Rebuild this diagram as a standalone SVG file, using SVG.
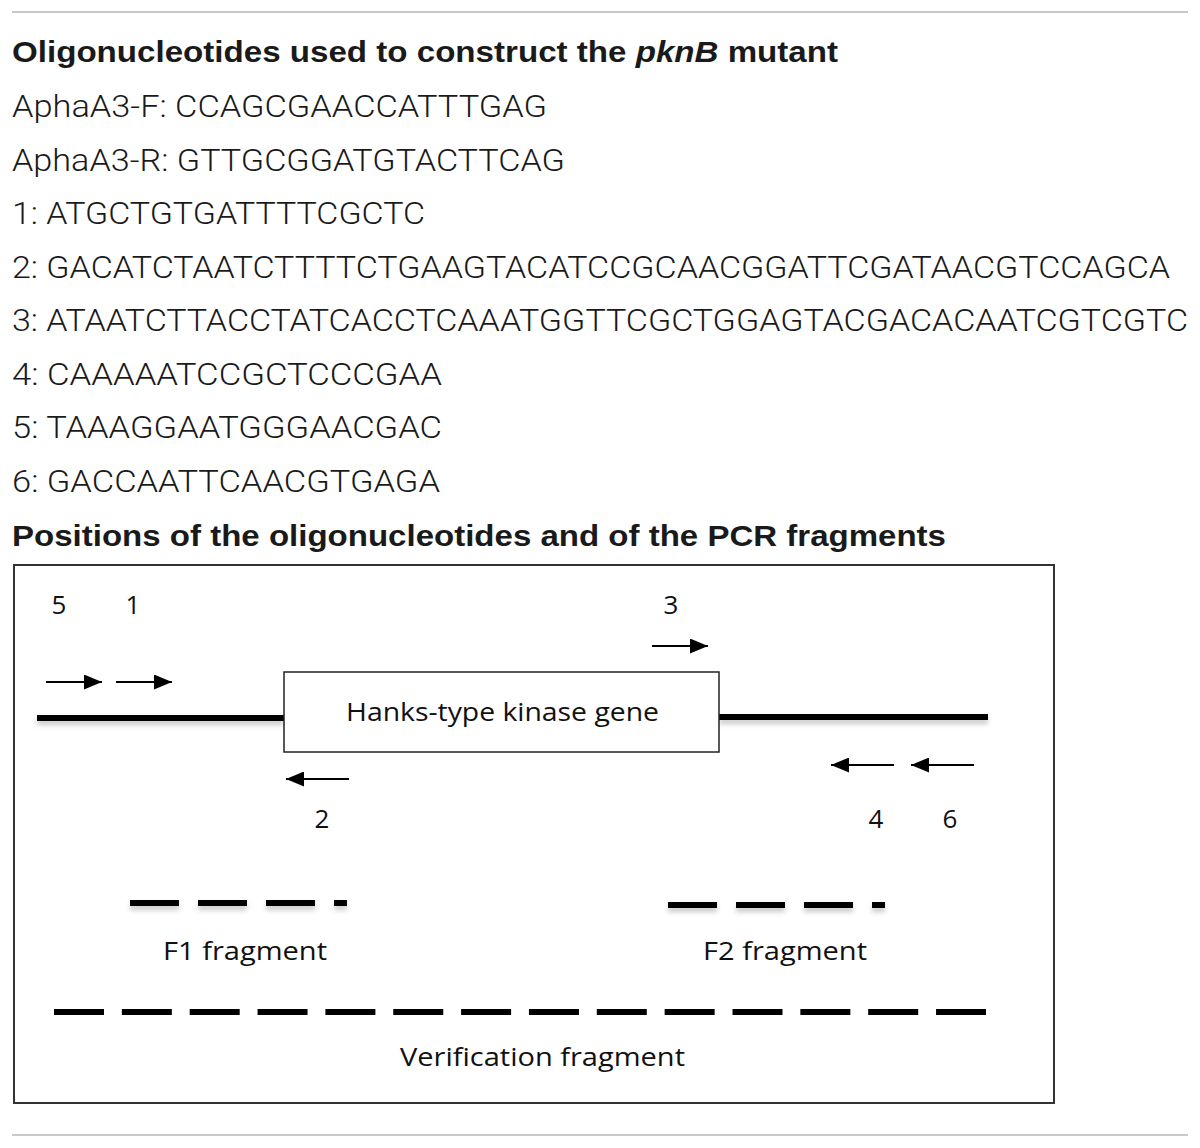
<svg xmlns="http://www.w3.org/2000/svg" width="1200" height="1148" viewBox="0 0 1200 1148">
<style>
.seq{font-family:Roboto,"Liberation Sans",Arial,sans-serif;font-weight:300;font-size:31px;fill:#1a1a1a}
.ttl{font-family:"Liberation Sans",Arial,sans-serif;font-weight:bold;font-size:30px;fill:#1a1a1a}
.lbl{font-family:"Open Sans","Noto Sans",sans-serif;font-size:26px;fill:#111;text-anchor:middle}
.big{font-family:"Open Sans","Noto Sans",sans-serif;font-size:25px;fill:#111}
.arr{stroke:#000;stroke-width:1.8;fill:none}
.thick{stroke:#000;stroke-width:6;fill:none;stroke-linecap:butt}
.dash{stroke:#000;stroke-width:6;fill:none}
</style>
<defs>
<marker id="ah" viewBox="0 0 18 15" refX="18" refY="7.5" markerWidth="18" markerHeight="15" markerUnits="userSpaceOnUse" orient="auto">
<path d="M0,0 L18,7.5 L0,15 Z" fill="#000"/>
</marker>
<filter id="sh" filterUnits="userSpaceOnUse" x="0" y="0" width="1200" height="1148">
<feDropShadow dx="0" dy="4" stdDeviation="2.5" flood-color="#888" flood-opacity="0.45"/>
</filter>
</defs>
<rect width="1200" height="1148" fill="#fff"/>
<line x1="12" y1="12" x2="1188" y2="12" stroke="#c8c8c8" stroke-width="2"/>
<line x1="12" y1="1135" x2="1188" y2="1135" stroke="#c8c8c8" stroke-width="2"/>

<g id="table">
<text class="ttl" x="12" y="62" textLength="826" lengthAdjust="spacingAndGlyphs">Oligonucleotides used to construct the <tspan font-style="italic">pknB</tspan> mutant</text>
<text class="seq" x="12" y="117" textLength="535" lengthAdjust="spacingAndGlyphs">AphaA3-F: CCAGCGAACCATTTGAG</text>
<text class="seq" x="12" y="171" textLength="553" lengthAdjust="spacingAndGlyphs">AphaA3-R: GTTGCGGATGTACTTCAG</text>
<text class="seq" x="12" y="224" textLength="413" lengthAdjust="spacingAndGlyphs">1: ATGCTGTGATTTTCGCTC</text>
<text class="seq" x="12" y="278" textLength="1158" lengthAdjust="spacingAndGlyphs">2: GACATCTAATCTTTTCTGAAGTACATCCGCAACGGATTCGATAACGTCCAGCA</text>
<text class="seq" x="12" y="331" textLength="1176" lengthAdjust="spacingAndGlyphs">3: ATAATCTTACCTATCACCTCAAATGGTTCGCTGGAGTACGACACAATCGTCGTC</text>
<text class="seq" x="12" y="385" textLength="430" lengthAdjust="spacingAndGlyphs">4: CAAAAATCCGCTCCCGAA</text>
<text class="seq" x="12" y="438" textLength="430" lengthAdjust="spacingAndGlyphs">5: TAAAGGAATGGGAACGAC</text>
<text class="seq" x="12" y="492" textLength="428" lengthAdjust="spacingAndGlyphs">6: GACCAATTCAACGTGAGA</text>
<text class="ttl" x="12" y="546" textLength="934" lengthAdjust="spacingAndGlyphs">Positions of the oligonucleotides and of the PCR fragments</text>
</g>

<rect x="14" y="565" width="1040" height="538" fill="none" stroke="#333" stroke-width="2"/>

<g id="connectors">
<line class="thick" x1="37" y1="718" x2="284" y2="718" filter="url(#sh)"/>
<line class="thick" x1="719" y1="717" x2="988" y2="717" filter="url(#sh)"/>
<line class="arr" x1="46" y1="682" x2="102" y2="682" marker-end="url(#ah)"/>
<line class="arr" x1="116" y1="682" x2="172" y2="682" marker-end="url(#ah)"/>
<line class="arr" x1="652" y1="646" x2="708" y2="646" marker-end="url(#ah)"/>
<line class="arr" x1="349" y1="779" x2="286" y2="779" marker-end="url(#ah)"/>
<line class="arr" x1="894" y1="765" x2="831" y2="765" marker-end="url(#ah)"/>
<line class="arr" x1="974" y1="765" x2="911" y2="765" marker-end="url(#ah)"/>
</g>

<g id="gene">
<rect x="284" y="672" width="435" height="80" fill="#fff" stroke="#222" stroke-width="1.5"/>
<text class="big" x="346" y="721" textLength="313" lengthAdjust="spacingAndGlyphs">Hanks-type kinase gene</text>
</g>

<g id="primer-labels">
<text class="lbl" x="59" y="614">5</text>
<text class="lbl" x="133" y="614">1</text>
<text class="lbl" x="671" y="614">3</text>
<text class="lbl" x="322" y="828">2</text>
<text class="lbl" x="876" y="828">4</text>
<text class="lbl" x="950" y="828">6</text>
</g>

<g id="f1">
<line class="dash" x1="130" y1="903" x2="347" y2="903" stroke-dasharray="49 19" filter="url(#sh)"/>
<text class="big" x="163" y="960" textLength="164" lengthAdjust="spacingAndGlyphs">F1 fragment</text>
</g>
<g id="f2">
<line class="dash" x1="668" y1="905" x2="885" y2="905" stroke-dasharray="49 19" filter="url(#sh)"/>
<text class="big" x="703" y="960" textLength="164" lengthAdjust="spacingAndGlyphs">F2 fragment</text>
</g>
<g id="verification">
<line class="dash" x1="54" y1="1012" x2="986" y2="1012" stroke-dasharray="50 17.85"/>
<text class="big" x="400" y="1066" textLength="285" lengthAdjust="spacingAndGlyphs">Verification fragment</text>
</g>
</svg>
